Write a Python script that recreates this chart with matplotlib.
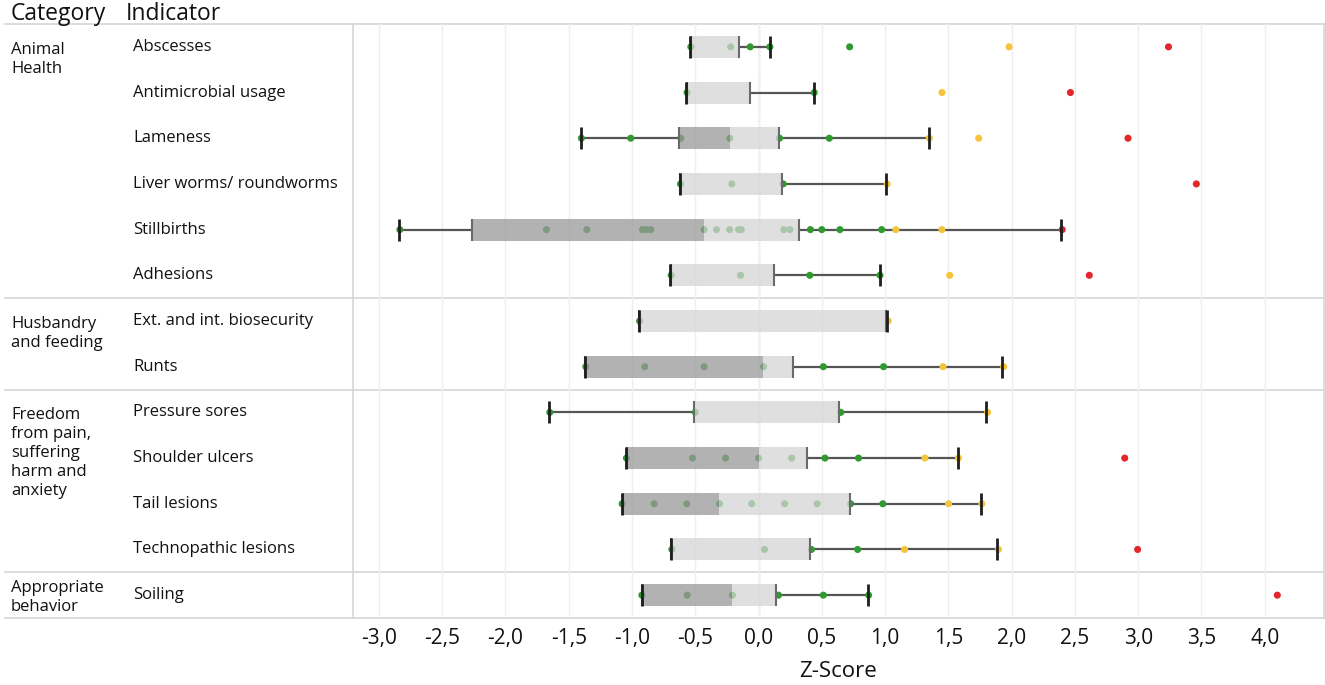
"""
Z-score boxplots per welfare indicator, grouped by category.
"""

import numpy as np
import matplotlib.pyplot as plt
import matplotlib.transforms as mtransforms

plt.rcParams['font.family'] = ['Open Sans', 'DejaVu Sans']

# --- Data ---
categories = ['Animal\nHealth', 'Husbandry\nand feeding',
              'Freedom\nfrom pain,\nsuffering\nharm and\nanxiety',
              'Appropriate\nbehavior']
group_sizes = [6, 2, 4, 1]

indicators = ['Abscesses', 'Antimicrobial usage', 'Lameness',
              'Liver worms/ roundworms', 'Stillbirths', 'Adhesions',
              'Ext. and int. biosecurity', 'Runts',
              'Pressure sores', 'Shoulder ulcers', 'Tail lesions',
              'Technopathic lesions', 'Soiling']

whisk_lo = [-0.538, -0.574, -1.407, -0.622, -2.841, -0.696, -0.946, -1.370, -1.655, -1.049, -1.083, -0.688, -0.922]
q1       = [-0.530, -0.569, -0.627, -0.622, -2.266, -0.688, -0.946, -1.370, -0.509, -1.043, -1.075, -0.688, -0.922]
median   = [-0.530, -0.569, -0.227, -0.622, -0.432, -0.688, -0.946,  0.037, -0.509,  0.000, -0.314, -0.688, -0.211]
q3       = [-0.153, -0.069,  0.161,  0.187,  0.319,  0.121,  1.011,  0.270,  0.638,  0.383,  0.719,  0.408,  0.141]
whisk_hi = [ 0.087,  0.436,  1.344,  1.011,  2.389,  0.959,  1.017,  1.925,  1.799,  1.578,  1.756,  1.887,  0.862]

points = [
    [-0.535, -0.22, -0.066, 0.09, 0.72, 1.98, 3.24],
    [-0.565, 0.44, 1.45, 2.465],
    [-1.40, -1.01, -0.614, -0.227, 0.166, 0.559, 1.35, 1.74, 2.92],
    [-0.617, -0.211, 0.195, 1.017, 3.46],
    [-2.835, -1.676, -1.357, -0.917, -0.885, -0.851, -0.43, -0.332, -0.229,
     -0.158, -0.137, 0.20, 0.247, 0.41, 0.50, 0.643, 0.973, 1.085, 1.449, 2.40],
    [-0.69, -0.142, 0.405, 0.96, 1.511, 2.614],
    [-0.94, 1.024],
    [-1.365, -0.899, -0.43, 0.04, 0.512, 0.988, 1.458, 1.937],
    [-1.65, -0.50, 0.65, 1.81],
    [-1.044, -0.522, -0.261, 0.0, 0.262, 0.525, 0.79, 1.315, 1.58, 2.894],
    [-1.078, -0.825, -0.567, -0.308, -0.053, 0.206, 0.463, 0.728, 0.982, 1.502, 1.765],
    [-0.685, 0.047, 0.418, 0.783, 1.154, 1.896, 2.996],
    [-0.922, -0.564, -0.206, 0.158, 0.512, 0.87, 4.10],
]

xticks = np.arange(-3.0, 4.01, 0.5)

# --- Colours ---
GREEN = '#2f9a2f'
YELLOW = '#f4c43a'
RED = '#e2262c'
BOX_LIGHT = '#d5d5d5'
BOX_DARK = '#999999'
SEP = '#d6d6d6'
INK = '#111111'


def point_color(v):
    if v >= 2.0:
        return RED
    if v >= 1.0:
        return YELLOW
    return GREEN


# --- Figure ---
W, H = 1325, 685
fig = plt.figure(figsize=(W / 100, H / 100), dpi=100)
ax = fig.add_axes([353 / W, 1 - 618 / H, (1323.5 - 353) / W, 594 / H])

y = np.arange(len(indicators))
HH = 0.24  # half box height

# grid + zero line
ax.set_xticks(xticks)
ax.grid(axis='x', color='#efefef', lw=1, zorder=0)
ax.axvline(0, color='#a8a8a8', ls=(0, (1, 1.5)), lw=1, zorder=1)

# points (under the boxes, which are semi transparent)
for i, vals in enumerate(points):
    ax.scatter(vals, [y[i]] * len(vals), s=26, c=[point_color(v) for v in vals],
               linewidths=0, zorder=3)

# whiskers
ax.hlines(y, whisk_lo, q1, color='#555555', lw=1.6, zorder=2)
ax.hlines(y, q3, whisk_hi, color='#555555', lw=1.6, zorder=2)

# boxes
lo_w = np.array(median) - np.array(q1)
hi_w = np.array(q3) - np.array(median)
ax.barh(y, lo_w, left=q1, height=2 * HH, color=BOX_DARK, alpha=0.75, lw=0, zorder=4)
ax.barh(y, hi_w, left=median, height=2 * HH, color=BOX_LIGHT, alpha=0.75, lw=0, zorder=4)
ax.vlines(q1, y - HH, y + HH, color='#6a6a6a', lw=1.5, zorder=5)
ax.vlines(q3, y - HH, y + HH, color='#6a6a6a', lw=1.5, zorder=5)

# caps
ax.vlines(whisk_lo, y - HH, y + HH, color='#1e1e1e', lw=2, zorder=5)
ax.vlines(whisk_hi, y - HH, y + HH, color='#1e1e1e', lw=2, zorder=5)

ax.set_xlim(-3.205, 4.465)
ax.set_ylim(len(indicators) - 0.5, -0.5)
ax.set_yticks([])
ax.set_xticklabels([f'{v:.1f}'.replace('.', ',') for v in xticks],
                   fontsize=15, color=INK)
ax.tick_params(axis='x', length=0, pad=7)
ax.set_xlabel('Z-Score', fontsize=16, color=INK, labelpad=9)

for side in ['top', 'bottom']:
    ax.spines[side].set_visible(False)
for side in ['left', 'right']:
    ax.spines[side].set_color(SEP)
    ax.spines[side].set_linewidth(1.2)

# --- Left table part ---
trans = mtransforms.blended_transform_factory(fig.transFigure, ax.transData)
bounds = np.concatenate([[0], np.cumsum(group_sizes)]) - 0.5
for b in bounds:
    ax.plot([5 / W, 1323.5 / W], [b, b], transform=trans, color=SEP,
            lw=1.2, clip_on=False, zorder=1)

for i, name in enumerate(indicators):
    ax.text(133 / W, y[i], name, transform=trans, ha='left', va='center',
            fontsize=12, color=INK)

start = 0
for cat, n in zip(categories, group_sizes):
    if n == 1:
        ax.text(11 / W, start + 0.05, cat, transform=trans, ha='left', va='center',
                fontsize=12, color=INK, linespacing=1.25)
    else:
        ax.text(11 / W, start - 0.11, cat, transform=trans, ha='left', va='top',
                fontsize=12, color=INK, linespacing=1.25)
    start += n

fig.text(11 / W, 1 - 14 / H, 'Category', ha='left', va='center', fontsize=16.5, color=INK)
fig.text(126 / W, 1 - 14 / H, 'Indicator', ha='left', va='center', fontsize=16.5, color=INK)

fig.savefig('out.png', dpi=100)
